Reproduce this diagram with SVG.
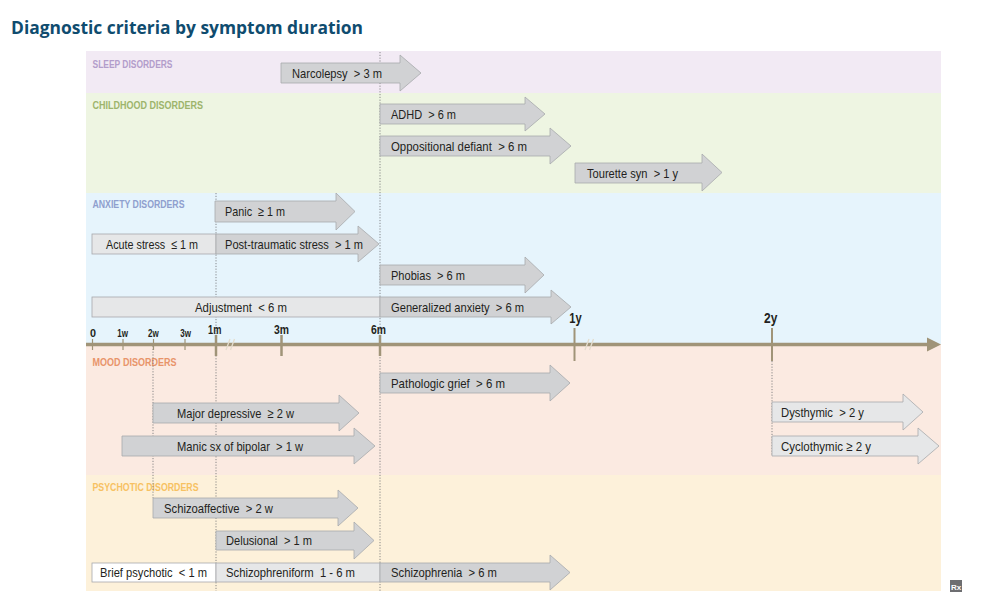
<svg xmlns="http://www.w3.org/2000/svg" width="994" height="615" viewBox="0 0 994 615">
<style>
.arr{fill:#d1d2d4;stroke:#a7a9ac;stroke-width:0.8}
.lt{fill:#e6e7e8;stroke:#a7a9ac;stroke-width:0.8}
.wh{fill:#ffffff;stroke:#a7a9ac;stroke-width:0.8}
.lbl{font-family:"Liberation Sans",Arial,sans-serif;font-size:13.5px;fill:#231f20}
.cat{font-family:"Liberation Sans",Arial,sans-serif;font-weight:bold;font-size:10.8px}
.guide{stroke:#6d6e71;stroke-width:0.8;stroke-dasharray:1.2 1.6;fill:none}
.ax{font-family:"Liberation Sans",Arial,sans-serif;font-weight:bold;fill:#231f20;text-anchor:middle}
.tick{stroke:#a09478;fill:none}
.brk{stroke:#e4ddce;stroke-width:1.3;fill:none}
</style>
<rect width="994" height="615" fill="#ffffff"/>
<text x="11" y="34" font-family="'Open Sans','Noto Sans',sans-serif" font-weight="bold" font-size="18" fill="#0f4c6f" textLength="352" lengthAdjust="spacingAndGlyphs">Diagnostic criteria by symptom duration</text>

<g id="bands">
<rect x="86" y="51" width="855" height="42" fill="#f2eaf4"/>
<rect x="86" y="93" width="855" height="100" fill="#eef5e2"/>
<rect x="86" y="193" width="855" height="151" fill="#e6f4fc"/>
<rect x="86" y="344" width="855" height="131" fill="#fbeae1"/>
<rect x="86" y="475" width="855" height="116" fill="#fdf1da"/>
</g>

<g id="categories">
<text class="cat" x="92.5" y="67.5" fill="#b39dcb" textLength="80" lengthAdjust="spacingAndGlyphs">SLEEP DISORDERS</text>
<text class="cat" x="92.5" y="108.5" fill="#9db46c" textLength="110.5" lengthAdjust="spacingAndGlyphs">CHILDHOOD DISORDERS</text>
<text class="cat" x="92.5" y="208" fill="#8f9fce" textLength="92" lengthAdjust="spacingAndGlyphs">ANXIETY DISORDERS</text>
<text class="cat" x="92.5" y="365.5" fill="#e8946a" textLength="84" lengthAdjust="spacingAndGlyphs">MOOD DISORDERS</text>
<text class="cat" x="92.5" y="490.5" fill="#f7c162" textLength="106" lengthAdjust="spacingAndGlyphs">PSYCHOTIC DISORDERS</text>
</g>

<g id="connectors">
<line class="guide" x1="380" y1="52" x2="380" y2="591"/>
<line class="guide" x1="216" y1="193" x2="216" y2="591"/>
<line class="guide" x1="153" y1="346" x2="153" y2="498"/>
<line class="guide" x1="772" y1="361" x2="772" y2="456"/>
</g>

<g id="axis">
<line x1="86" y1="344.5" x2="928" y2="344.5" stroke="#a09478" stroke-width="3.5"/>
<polygon points="927,337.5 941,344.5 927,351.5" fill="#a09478"/>
<line class="tick" x1="92.5" y1="339" x2="92.5" y2="350" stroke-width="1.2"/>
<line class="tick" x1="123" y1="339" x2="123" y2="350" stroke-width="1.2"/>
<line class="tick" x1="153.5" y1="339" x2="153.5" y2="350" stroke-width="1.2"/>
<line class="tick" x1="185" y1="339" x2="185" y2="350" stroke-width="1.2"/>
<line class="tick" x1="216" y1="335" x2="216" y2="356" stroke-width="2.5"/>
<line class="tick" x1="281.5" y1="335" x2="281.5" y2="356" stroke-width="2.5"/>
<line class="tick" x1="380" y1="335" x2="380" y2="356" stroke-width="2.5"/>
<line class="tick" x1="574.5" y1="328" x2="574.5" y2="361" stroke-width="2"/>
<line class="tick" x1="772" y1="328" x2="772" y2="361" stroke-width="2"/>
<path class="brk" d="M226,350 L230,339 M230.5,350 L234.5,339"/>
<path class="brk" d="M585,350 L589,339 M589.5,350 L593.5,339"/>
<text class="ax" x="93" y="337" font-size="11" textLength="6" lengthAdjust="spacingAndGlyphs">0</text>
<text class="ax" x="122.7" y="337" font-size="10.5" textLength="10.7" lengthAdjust="spacingAndGlyphs">1w</text>
<text class="ax" x="153.3" y="337" font-size="10.5" textLength="10.7" lengthAdjust="spacingAndGlyphs">2w</text>
<text class="ax" x="185.7" y="337" font-size="10.5" textLength="10.7" lengthAdjust="spacingAndGlyphs">3w</text>
<text class="ax" x="214.7" y="334" font-size="13" textLength="13.3" lengthAdjust="spacingAndGlyphs">1m</text>
<text class="ax" x="281.5" y="334" font-size="13" textLength="15" lengthAdjust="spacingAndGlyphs">3m</text>
<text class="ax" x="378.5" y="334" font-size="13" textLength="15" lengthAdjust="spacingAndGlyphs">6m</text>
<text class="ax" x="575.5" y="323" font-size="14" textLength="12.4" lengthAdjust="spacingAndGlyphs">1y</text>
<text class="ax" x="770.7" y="323" font-size="14" textLength="13.3" lengthAdjust="spacingAndGlyphs">2y</text>
</g>

<g id="narcolepsy"><path class="arr" d="M281,63 H400 V55 L421,73 L400,91 V83 H281 Z"/><text class="lbl" x="292" y="77.5" textLength="90" lengthAdjust="spacingAndGlyphs">Narcolepsy &#160;&gt; 3 m</text></g>
<g id="adhd"><path class="arr" d="M380,104 H525 V97 L545,114 L525,131 V124 H380 Z"/><text class="lbl" x="391" y="118.5" textLength="65" lengthAdjust="spacingAndGlyphs">ADHD &#160;&gt; 6 m</text></g>
<g id="oppositional"><path class="arr" d="M380,136 H550 V128 L571,146 L550,164 V156 H380 Z"/><text class="lbl" x="391" y="150.5" textLength="136" lengthAdjust="spacingAndGlyphs">Oppositional defiant &#160;&gt; 6 m</text></g>
<g id="tourette"><path class="arr" d="M575,163 H702 V154 L722,172.5 L702,191 V183 H575 Z"/><text class="lbl" x="587" y="177.5" textLength="91" lengthAdjust="spacingAndGlyphs">Tourette syn &#160;&gt; 1 y</text></g>

<g id="panic"><path class="arr" d="M215,201 H336 V193 L355,211.5 L336,230 V222 H215 Z"/><text class="lbl" x="225" y="216" textLength="60" lengthAdjust="spacingAndGlyphs">Panic &#160;≥ 1 m</text></g>
<g id="acute-stress"><rect class="lt" x="92" y="234" width="124" height="20"/><text class="lbl" x="106" y="248.5" textLength="92" lengthAdjust="spacingAndGlyphs">Acute stress &#160;≤ 1 m</text></g>
<g id="ptsd"><path class="arr" d="M216,234 H358 V226 L379,244 L358,262 V254 H216 Z"/><text class="lbl" x="225" y="248.5" textLength="138" lengthAdjust="spacingAndGlyphs">Post-traumatic stress &#160;&gt; 1 m</text></g>
<g id="phobias"><path class="arr" d="M380,265 H525 V257 L544,275 L525,293 V285 H380 Z"/><text class="lbl" x="391" y="279.5" textLength="74" lengthAdjust="spacingAndGlyphs">Phobias &#160;&gt; 6 m</text></g>
<g id="adjustment"><rect class="lt" x="92" y="297" width="288" height="20"/><text class="lbl" x="195" y="311.5" textLength="92" lengthAdjust="spacingAndGlyphs">Adjustment &#160;&lt; 6 m</text></g>
<g id="generalized-anxiety"><path class="arr" d="M380,297 H551 V290 L571,307 L551,324 V317 H380 Z"/><text class="lbl" x="391" y="311.5" textLength="133" lengthAdjust="spacingAndGlyphs">Generalized anxiety &#160;&gt; 6 m</text></g>

<g id="pathologic-grief"><path class="arr" d="M380,373 H550 V365 L570,383 L550,401 V393 H380 Z"/><text class="lbl" x="391" y="387.5" textLength="114" lengthAdjust="spacingAndGlyphs">Pathologic grief &#160;&gt; 6 m</text></g>
<g id="major-depressive"><path class="arr" d="M153,403 H339 V395 L359,413 L339,431 V423 H153 Z"/><text class="lbl" x="177" y="417.5" textLength="117" lengthAdjust="spacingAndGlyphs">Major depressive &#160;≥ 2 w</text></g>
<g id="manic"><path class="arr" d="M122,436 H354 V428 L375,446 L354,464 V456 H122 Z"/><text class="lbl" x="177" y="450.5" textLength="126" lengthAdjust="spacingAndGlyphs">Manic sx of bipolar &#160;&gt; 1 w</text></g>
<g id="dysthymic"><path class="lt" d="M772,402 H903 V394 L923,412 L903,430 V422 H772 Z"/><text class="lbl" x="781" y="416.5" textLength="83" lengthAdjust="spacingAndGlyphs">Dysthymic &#160;&gt; 2 y</text></g>
<g id="cyclothymic"><path class="lt" d="M772,436 H918 V428 L939,446 L918,464 V456 H772 Z"/><text class="lbl" x="781" y="450.5" textLength="90" lengthAdjust="spacingAndGlyphs">Cyclothymic ≥ 2 y</text></g>

<g id="schizoaffective"><path class="arr" d="M153,498 H338 V490 L358,508 L338,526 V518 H153 Z"/><text class="lbl" x="164" y="512.5" textLength="109" lengthAdjust="spacingAndGlyphs">Schizoaffective &#160;&gt; 2 w</text></g>
<g id="delusional"><path class="arr" d="M216,531 H354 V522 L374,540.5 L354,559 V550 H216 Z"/><text class="lbl" x="226" y="545" textLength="86" lengthAdjust="spacingAndGlyphs">Delusional &#160;&gt; 1 m</text></g>
<g id="brief-psychotic"><rect class="wh" x="92" y="563" width="124" height="19"/><text class="lbl" x="100" y="577" textLength="107" lengthAdjust="spacingAndGlyphs">Brief psychotic &#160;&lt; 1 m</text></g>
<g id="schizophreniform"><rect class="lt" x="216" y="563" width="164" height="19"/><text class="lbl" x="226" y="577" textLength="129" lengthAdjust="spacingAndGlyphs">Schizophreniform &#160;1 - 6 m</text></g>
<g id="schizophrenia"><path class="arr" d="M380,563 H550 V555 L570,572.5 L550,590 V582 H380 Z"/><text class="lbl" x="391" y="577" textLength="106" lengthAdjust="spacingAndGlyphs">Schizophrenia &#160;&gt; 6 m</text></g>

<g id="rx-icon"><rect x="950" y="580" width="12" height="12" fill="#6d6e71"/><text x="956" y="589.5" font-family="'Liberation Sans',Arial,sans-serif" font-weight="bold" font-size="8" fill="#ffffff" text-anchor="middle">Rx</text></g>
</svg>
